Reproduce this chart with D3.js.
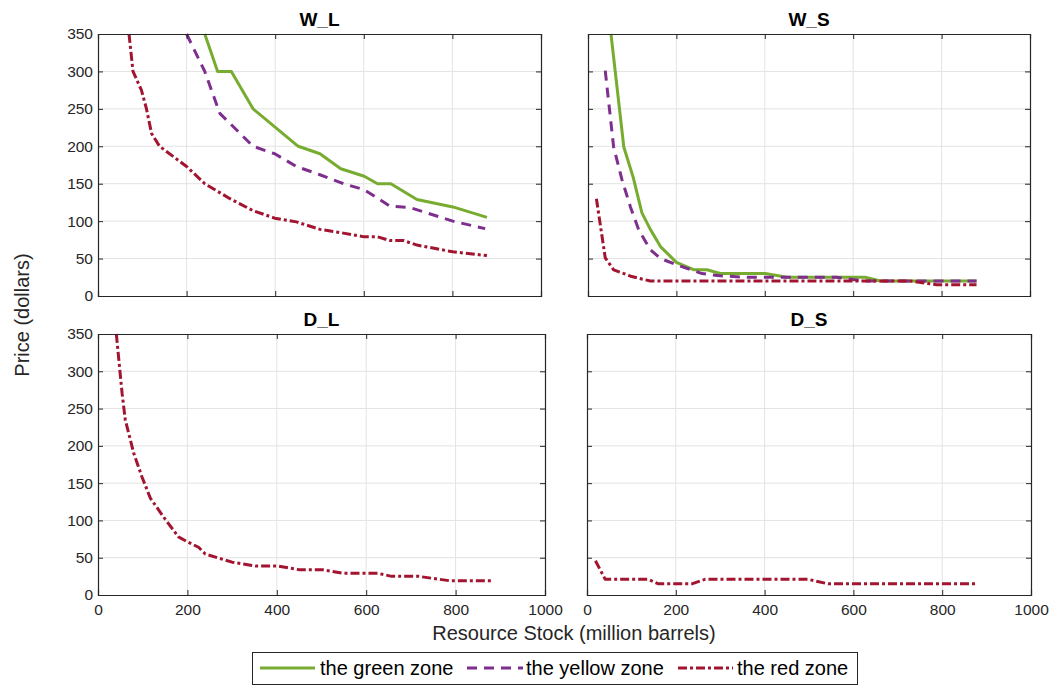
<!DOCTYPE html>
<html><head><meta charset="utf-8">
<script src="https://cdn.jsdelivr.net/npm/d3@7"></script>
<style>body{margin:0;background:#fff;} text{font-family:"Liberation Sans",Arial,sans-serif;}</style>
</head><body><svg id="c" width="1053" height="686"></svg>
<script>
// ---- data ----
const panelTitles = ["W_L", "W_S", "D_L", "D_S"];
const seriesNames = ["the green zone", "the yellow zone", "the red zone"];
const xTicks = [0, 200, 400, 600, 800, 1000];
const yTicks = [0, 50, 100, 150, 200, 250, 300, 350];

const wlGreenX = [241, 270, 301, 350, 452, 501, 548, 601, 631, 661, 720, 801, 878];
const wlGreenY = [350, 300, 300, 250, 200, 190, 170, 160, 150, 150, 129, 119, 105];
const wlYellowX = [200, 241, 275, 350, 399, 448, 501, 554, 601, 659, 705, 801, 874];
const wlYellowY = [350, 300, 244, 200, 190, 173, 162, 150, 142, 120, 118, 100, 90];
const wlRedX = [70, 79, 98, 109, 121, 139, 200, 241, 298, 350, 399, 448, 501, 554, 601, 631, 659, 690, 720, 801, 878];
const wlRedY = [350, 300, 275, 251, 217, 200, 173, 150, 130, 114, 104, 99, 89, 84, 79, 79, 74, 74, 68, 59, 54];

const wsGreenX = [52, 81, 102, 122, 141, 164, 200, 240, 269, 299, 401, 450, 627, 661, 879];
const wsGreenY = [350, 199, 159, 111, 89, 66, 45, 35, 35, 30, 30, 25, 25, 20, 20];
const wsYellowX = [39, 58, 77, 96, 115, 141, 164, 209, 258, 299, 360, 563, 623, 879];
const wsYellowY = [301, 199, 155, 119, 88, 62, 50, 40, 30, 27, 25, 25, 20, 20];
const wsRedX = [19, 39, 58, 99, 141, 729, 789, 879];
const wsRedY = [130, 51, 35, 26, 20, 20, 15, 15];

const dlRedX = [41, 54, 61, 80, 98, 117, 151, 180, 201, 225, 240, 300, 352, 400, 449, 501, 549, 627, 657, 717, 788, 881];
const dlRedY = [350, 270, 235, 190, 159, 130, 101, 78, 71, 64, 55, 44, 39, 39, 34, 34, 29, 29, 25, 25, 19, 19];

const dsRedX = [19, 41, 138, 161, 236, 266, 498, 543, 876];
const dsRedY = [46, 21, 21, 15, 15, 21, 21, 15, 15];

// ---- styles ----
const styles = [
  {color: "#77AC30", dash: null},
  {color: "#7E2F8E", dash: "10,7"},
  {color: "#A2142F", dash: "9,3,3,3"}
];
const zip = (xs, ys) => xs.map((x, i) => [x, ys[i]]);
const panels = [
  {title: panelTitles[0], l: 98, r: 541, t: 34, b: 296, showY: true, showX: false,
   series: [[0, zip(wlGreenX, wlGreenY)], [1, zip(wlYellowX, wlYellowY)], [2, zip(wlRedX, wlRedY)]]},
  {title: panelTitles[1], l: 588, r: 1030, t: 34, b: 296, showY: false, showX: false,
   series: [[0, zip(wsGreenX, wsGreenY)], [1, zip(wsYellowX, wsYellowY)], [2, zip(wsRedX, wsRedY)]]},
  {title: panelTitles[2], l: 98, r: 545, t: 334, b: 595, showY: true, showX: true,
   series: [[2, zip(dlRedX, dlRedY)]]},
  {title: panelTitles[3], l: 587, r: 1031, t: 334, b: 595, showY: false, showX: true,
   series: [[2, zip(dsRedX, dsRedY)]]}
];

const svg = d3.select("#c");
const axisCol = "#262626";
const fontFam = "'Liberation Sans', Arial, sans-serif";
panels.forEach((p, pi) => {
  const x = d3.scaleLinear().domain([0, 1000]).range([p.l, p.r]);
  const y = d3.scaleLinear().domain([0, 350]).range([p.b, p.t]);
  const g = svg.append("g");
  // grid
  g.selectAll(".gx").data(xTicks.slice(1, -1)).join("line")
    .attr("x1", d => x(d)).attr("x2", d => x(d)).attr("y1", p.t).attr("y2", p.b)
    .attr("stroke", "#e3e3e3").attr("stroke-width", 1);
  g.selectAll(".gy").data(yTicks.slice(1, -1)).join("line")
    .attr("y1", d => y(d)).attr("y2", d => y(d)).attr("x1", p.l).attr("x2", p.r)
    .attr("stroke", "#e3e3e3").attr("stroke-width", 1);
  // clip
  const cid = "clip" + pi;
  svg.append("clipPath").attr("id", cid).append("rect")
    .attr("x", p.l).attr("y", p.t - 2).attr("width", p.r - p.l).attr("height", p.b - p.t + 2);
  const line = d3.line().x(d => x(d[0])).y(d => y(d[1]));
  p.series.forEach(([si, pts]) => {
    g.append("path").datum(pts).attr("d", line).attr("fill", "none")
      .attr("clip-path", `url(#${cid})`)
      .attr("stroke", styles[si].color).attr("stroke-width", 3)
      .attr("stroke-dasharray", styles[si].dash)
      .attr("stroke-linejoin", "round");
  });
  // axes with inward ticks on all sides
  const ax = g.append("g");
  ax.append("g").attr("transform", `translate(0,${p.b})`)
    .call(d3.axisBottom(x).tickValues(xTicks).tickSize(-5).tickPadding(9).tickFormat(p.showX ? d3.format("d") : ""));
  ax.append("g").attr("transform", `translate(0,${p.t})`)
    .call(d3.axisTop(x).tickValues(xTicks).tickSize(-5).tickFormat(""));
  ax.append("g").attr("transform", `translate(${p.l},0)`)
    .call(d3.axisLeft(y).tickValues(yTicks).tickSize(-5).tickPadding(5).tickFormat(p.showY ? d3.format("d") : ""));
  ax.append("g").attr("transform", `translate(${p.r},0)`)
    .call(d3.axisRight(y).tickValues(yTicks).tickSize(-5).tickFormat(""));
  ax.selectAll(".domain").attr("stroke", axisCol).attr("stroke-width", 1.2);
  ax.selectAll(".tick line").attr("stroke", axisCol);
  ax.selectAll(".tick text").attr("fill", axisCol).style("font-size", "15.5px")
    .style("font-family", fontFam);
  // title
  svg.append("text").attr("x", (p.l + p.r) / 2).attr("y", p.t - 8)
    .attr("text-anchor", "middle").style("font-size", "19px").style("font-weight", "bold")
    .attr("fill", "#000").text(p.title);
});

// axis labels
svg.append("text").attr("x", 574).attr("y", 640).attr("text-anchor", "middle")
  .style("font-size", "20px").attr("fill", axisCol).text("Resource Stock (million barrels)");
svg.append("text").attr("transform", "translate(29,315) rotate(-90)").attr("text-anchor", "middle")
  .style("font-size", "20px").attr("fill", axisCol).text("Price (dollars)");

// legend
const lg = svg.append("g");
lg.append("rect").attr("x", 252.5).attr("y", 652.5).attr("width", 605).attr("height", 32)
  .attr("fill", "#fff").attr("stroke", axisCol).attr("stroke-width", 1);
const legX = [[260, 315, 320], [467, 523, 526], [678, 733, 737]];
seriesNames.forEach((n, i) => {
  lg.append("line").attr("x1", legX[i][0]).attr("x2", legX[i][1]).attr("y1", 668).attr("y2", 668)
    .attr("stroke", styles[i].color).attr("stroke-width", 3).attr("stroke-dasharray", styles[i].dash);
  lg.append("text").attr("x", legX[i][2]).attr("y", 675).style("font-size", "20px")
    .attr("fill", "#000").text(n);
});
</script></body></html>
